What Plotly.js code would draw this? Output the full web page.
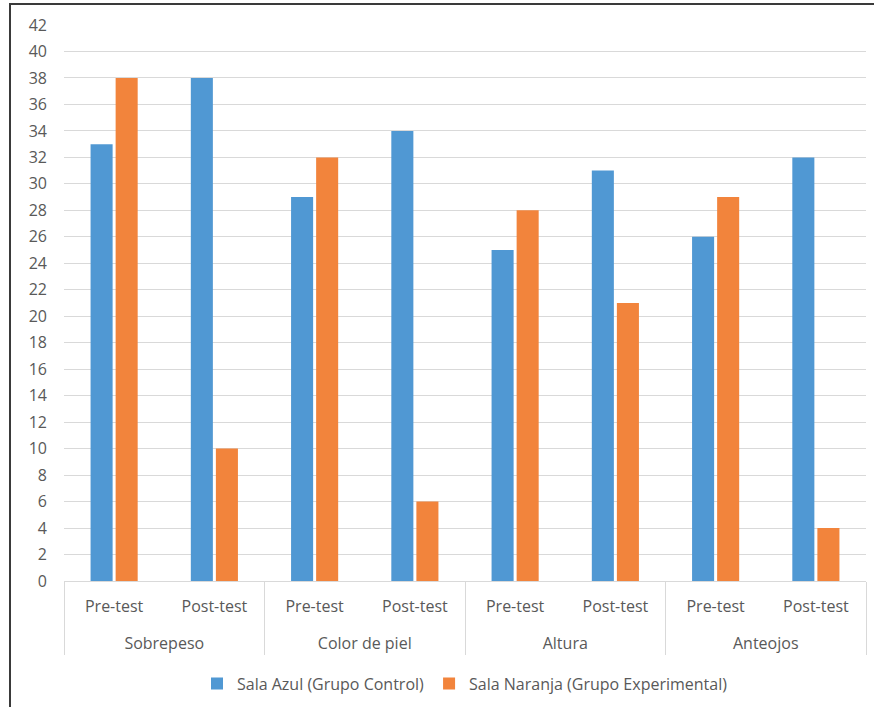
<!DOCTYPE html>
<html><head><meta charset="utf-8">
<script src="https://cdn.plot.ly/plotly-3.0.1.min.js"></script>
<style>
body{margin:0;padding:0;background:#fff;}
#wrap{position:relative;width:874px;height:707px;overflow:hidden;}
#chart{position:absolute;left:0;top:0;width:874px;height:707px;}
#frame{position:absolute;left:9px;top:3px;width:900px;height:800px;border-left:2px solid #3a3a3a;border-top:2px solid #3a3a3a;pointer-events:none;}
</style></head>
<body>
<div id="wrap"><div id="chart"></div><div id="frame"></div></div>
<script>
const groups = ["Sobrepeso","Sobrepeso","Color de piel","Color de piel","Altura","Altura","Anteojos","Anteojos"];
const phases = ["Pre-test","Post-test","Pre-test","Post-test","Pre-test","Post-test","Pre-test","Post-test"];
const salaAzul = [33,38,29,34,25,31,26,32];
const salaNaranja = [38,10,32,6,28,21,29,4];
const seriesNames = ["Sala Azul (Grupo Control)","Sala Naranja (Grupo Experimental)"];
const yTicks = [0,2,4,6,8,10,12,14,16,18,20,22,24,26,28,30,32,34,36,38,40,42];

const font = {family:"Open Sans, Liberation Sans, sans-serif", size:16, color:"#595959"};
const data = [
  {type:"bar", x:[groups,phases], y:salaAzul, name:seriesNames[0], marker:{color:"#5098D3"}},
  {type:"bar", x:[groups,phases], y:salaNaranja, name:seriesNames[1], marker:{color:"#F2843C"}}
];
const layout = {
  width:874, height:707,
  margin:{l:64, r:8, t:25, b:126},
  paper_bgcolor:"#fff", plot_bgcolor:"#fff",
  font:font,
  barmode:"group", bargap:0.5, bargroupgap:0.12,
  showlegend:true,
  legend:{orientation:"h", x:0.5, xanchor:"center", yref:"container", y:0.033, yanchor:"middle", font:{family:font.family,size:16,color:"#595959"}, itemwidth:30},
  xaxis:{type:"multicategory", automargin:false, ticks:"", ticklabelstandoff:11, showline:true, linecolor:"#D9D9D9", linewidth:1, showdividers:true, dividercolor:"#D9D9D9", dividerwidth:1, tickfont:font, showgrid:false},
  yaxis:{range:[0,42], tickvals:yTicks, ticktext:yTicks.map(String), showgrid:true, gridcolor:"#D9D9D9", gridwidth:1, zeroline:false, tickfont:font, ticks:"", ticklen:0, ticklabelstandoff:16, automargin:false}
};
const extraGroupShift = 24;
Plotly.newPlot("chart", data, layout, {displayModeBar:false, staticPlot:true}).then(function(gd){
  gd.querySelectorAll("g.xtick2").forEach(function(g){
    const t = g.getAttribute("transform") || "";
    g.setAttribute("transform", t + " translate(0," + extraGroupShift + ")");
  });
  gd.querySelectorAll("path.xdivider").forEach(function(p){
    const d = p.getAttribute("d");
    p.setAttribute("d", d.replace(/v(-?[\d.]+)/, function(m, v){ return "v" + (parseFloat(v) + extraGroupShift); }));
  });
});
</script>
</body></html>
